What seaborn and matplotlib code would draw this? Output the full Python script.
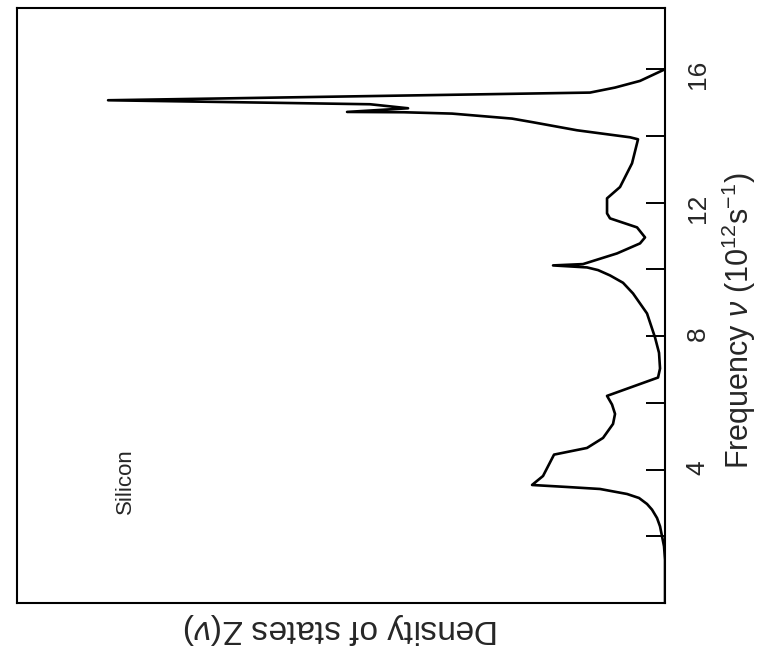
import matplotlib
matplotlib.use("Agg")
import matplotlib.pyplot as plt
import seaborn as sns
import pandas as pd

# phonon density of states of silicon
freq = [0.0, 1.3, 1.7, 2.0, 2.3, 2.55, 2.8, 2.97, 3.15, 3.27, 3.42, 3.48,
        3.54, 3.81, 4.45, 4.65, 4.95, 5.37, 5.67, 5.95, 6.21, 6.76, 7.03,
        7.5, 7.96, 8.68, 9.28, 9.6, 9.82, 9.98, 10.06, 10.12, 10.16, 10.48,
        10.78, 10.96, 11.26, 11.53, 11.68, 12.13, 12.47, 13.18, 13.9, 13.96,
        14.17, 14.41, 14.52, 14.67, 14.71, 14.72, 14.83, 14.95, 15.07, 15.30,
        15.45, 15.65, 16.0]
density = [0.0, 0.0, 0.01, 0.03, 0.05, 0.08, 0.13, 0.18, 0.26, 0.38, 0.65,
           0.98, 1.33, 1.22, 1.11, 0.78, 0.62, 0.52, 0.50, 0.53, 0.58, 0.07,
           0.05, 0.06, 0.10, 0.18, 0.32, 0.42, 0.55, 0.67, 0.78, 1.12, 0.82,
           0.48, 0.25, 0.20, 0.28, 0.55, 0.58, 0.58, 0.45, 0.33, 0.27, 0.35,
           0.88, 1.32, 1.53, 2.13, 2.61, 3.18, 2.57, 2.95, 5.57, 0.75, 0.50,
           0.25, 0.0]

major_ticks = [4, 8, 12, 16]
minor_ticks = [2, 6, 10, 14]

sns.set_theme(style="white")
plt.rcParams['font.family'] = ['Liberation Sans', 'DejaVu Sans']
plt.rcParams['mathtext.fontset'] = 'custom'
plt.rcParams['mathtext.rm'] = 'Liberation Sans'
plt.rcParams['mathtext.it'] = 'Liberation Sans:italic'

df = pd.DataFrame({"density": density, "freq": freq})

fig = plt.figure(figsize=(7.76, 6.52), dpi=100)
ax = fig.add_axes([0.022, 0.075, 0.835, 0.913])

sns.lineplot(data=df, x="density", y="freq", sort=False, estimator=None,
             color="black", linewidth=1.9, ax=ax)

ax.set_xlim(6.48, 0)
ax.set_ylim(0, 17.84)

for s in ax.spines.values():
    s.set_color("black")
    s.set_linewidth(1.5)

ax.set_xticks([])
ax.yaxis.tick_right()
ax.yaxis.set_label_position("right")
ax.set_yticks(major_ticks)
ax.set_yticks(minor_ticks, minor=True)
ax.set_yticklabels([str(t) for t in major_ticks])
ax.tick_params(axis="y", which="both", direction="in", length=14, width=1.4,
               color="black", right=True, left=False)
ax.tick_params(axis="y", which="major", labelsize=19, labelrotation=90, pad=15)

ax.set_ylabel(r"Frequency $\nu$ (10$^{12}$s$^{-1}$)", fontsize=22, rotation=90)
ax.yaxis.set_label_coords(1.085, 0.475)
ax.set_xlabel(r"Density of states Z($\nu$)", fontsize=24, rotation=180,
              labelpad=6)

ax.text(5.4, 3.66, "Silicon", fontsize=16, rotation=90, ha="center", va="center")

fig.savefig("out.png", dpi=100, facecolor="white")
